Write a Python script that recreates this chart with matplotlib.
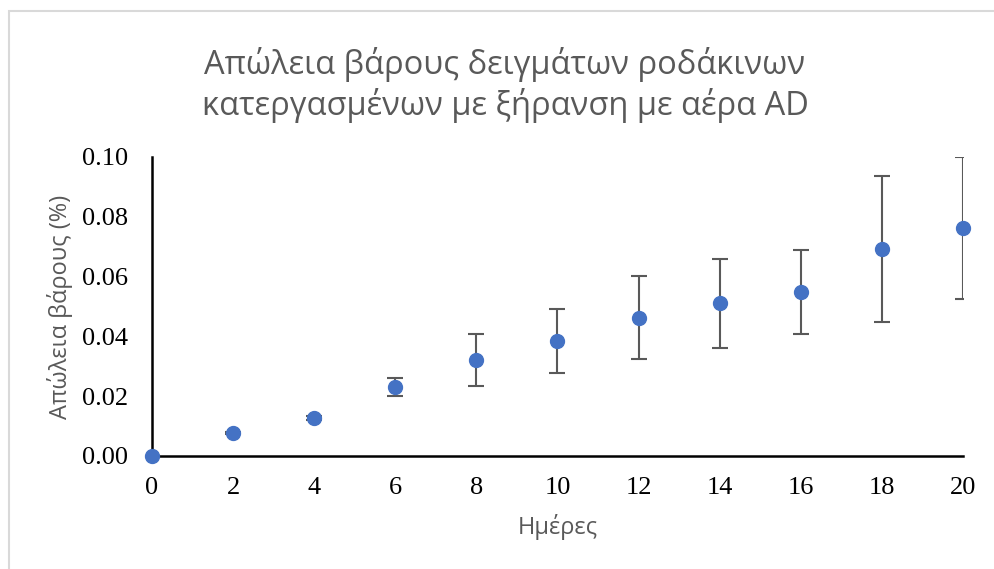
import matplotlib.pyplot as plt
from matplotlib.patches import Rectangle

days = [0, 2, 4, 6, 8, 10, 12, 14, 16, 18, 20]
loss = [0.0000, 0.0076, 0.0127, 0.0231, 0.0321, 0.0385, 0.0462, 0.0511, 0.0548, 0.0692, 0.0762]
err = [0.0000, 0.0004, 0.0008, 0.0030, 0.0087, 0.0107, 0.0139, 0.0149, 0.0141, 0.0243, 0.0237]

fig = plt.figure(figsize=(9.94, 5.69), dpi=100)
# light grey chart-area frame (only top and left visible in the crop)
fig.patches.append(Rectangle((0.009, -0.05), 1.05, 1.03, transform=fig.transFigure,
                             fill=False, edgecolor='#d9d9d9', linewidth=1.5))
ax = fig.add_axes([0.1529, 0.1986, 0.8159, 0.5255])

ax.errorbar(days, loss, yerr=err, fmt='none', ecolor='#595959', elinewidth=1.5,
            capsize=6, capthick=1.5, zorder=2)
ax.plot(days, loss, 'o', color='#4472C4', markersize=10, zorder=3, clip_on=False)

ax.set_xlim(0, 20)
ax.set_ylim(0, 0.10)
ax.set_xticks(range(0, 21, 2))
ax.set_yticks([0, 0.02, 0.04, 0.06, 0.08, 0.10])
ax.set_yticklabels(['%.2f' % v for v in ax.get_yticks()])
for lab in ax.get_xticklabels() + ax.get_yticklabels():
    lab.set_fontfamily('Liberation Serif')
    lab.set_fontsize(19)
ax.tick_params(axis='x', length=0, pad=15)
ax.tick_params(axis='y', length=0, pad=17)

ax.spines['top'].set_visible(False)
ax.spines['right'].set_visible(False)
ax.spines['left'].set_linewidth(1.8)
ax.spines['bottom'].set_linewidth(1.8)

ax.set_xlabel('Ημέρες', fontsize=17, color='#595959', family='Open Sans', labelpad=11)
ax.set_ylabel('Απώλεια βάρους (%)', fontsize=17, color='#595959', family='Open Sans', labelpad=7)
fig.text(0.508, 0.917, 'Απώλεια βάρους δειγμάτων ροδάκινων\nκατεργασμένων με ξήρανση με αέρα AD',
         ha='center', va='top', fontsize=23.5, color='#595959', family='Open Sans', linespacing=1.2)

plt.savefig('out.png', dpi=100)
